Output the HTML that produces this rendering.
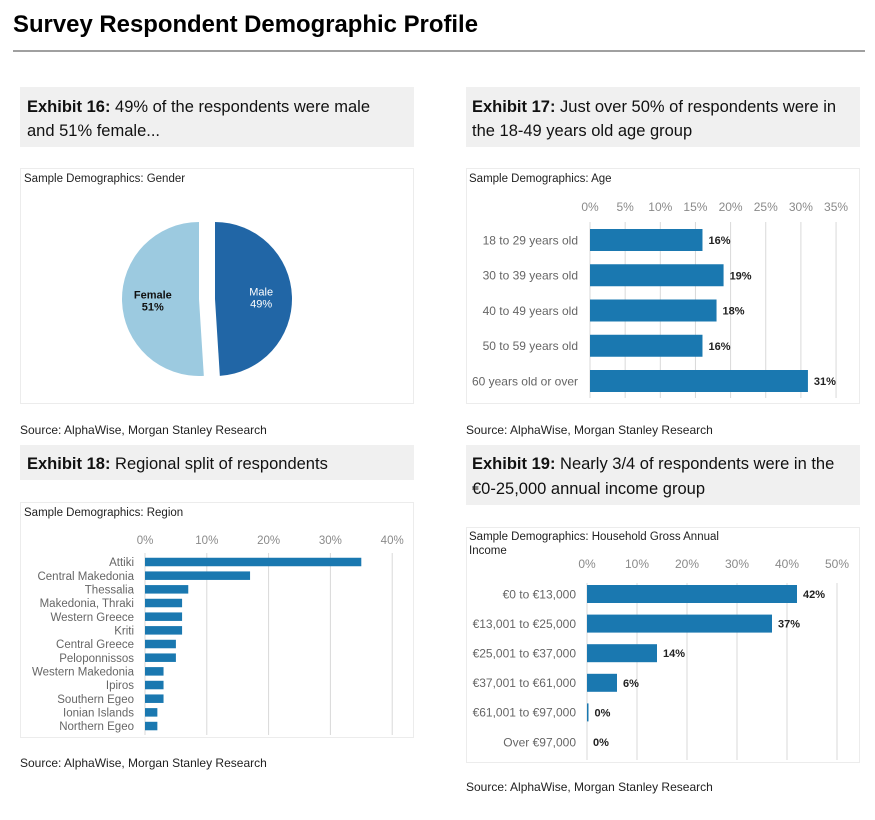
<!DOCTYPE html>
<html><head><meta charset="utf-8">
<style>
html,body{margin:0;padding:0;background:#fff;}
body{width:875px;height:815px;overflow:hidden;}
svg text{font-family:"Liberation Sans",sans-serif;}
</style></head>
<body>
<svg id="page" width="875" height="815" viewBox="0 0 875 815" xmlns="http://www.w3.org/2000/svg">
<text x="13" y="32" font-size="24" font-weight="bold" fill="#000" textLength="465" lengthAdjust="spacingAndGlyphs">Survey Respondent Demographic Profile</text>
<rect x="13" y="50" width="852" height="2" fill="#a0a0a0"/>

<rect x="20" y="87" width="394" height="60" fill="#f0f0f0"/>
<text font-size="16.5" fill="#111"><tspan x="27" y="112"><tspan font-weight="bold">Exhibit 16:</tspan> 49% of the respondents were male</tspan><tspan x="27" y="136">and 51% female...</tspan></text>
<rect x="466" y="87" width="394" height="60" fill="#f0f0f0"/>
<text font-size="16.5" fill="#111"><tspan x="472" y="112"><tspan font-weight="bold">Exhibit 17:</tspan> Just over 50% of respondents were in</tspan><tspan x="472" y="136">the 18-49 years old age group</tspan></text>
<rect x="20" y="445" width="394" height="35" fill="#f0f0f0"/>
<text font-size="16.5" fill="#111" x="27" y="469"><tspan font-weight="bold">Exhibit 18:</tspan> Regional split of respondents</text>
<rect x="466" y="445" width="394" height="60" fill="#f0f0f0"/>
<text font-size="16.5" fill="#111"><tspan x="472" y="469"><tspan font-weight="bold">Exhibit 19:</tspan> Nearly 3/4 of respondents were in the</tspan><tspan x="472" y="494">€0-25,000 annual income group</tspan></text>

<rect x="20.5" y="168.5" width="393" height="235" fill="#fff" stroke="#ececec"/>
<rect x="466.5" y="168.5" width="393" height="235" fill="#fff" stroke="#ececec"/>
<rect x="20.5" y="502.5" width="393" height="235" fill="#fff" stroke="#ececec"/>
<rect x="466.5" y="527.5" width="393" height="235" fill="#fff" stroke="#ececec"/>

<text x="24" y="182" font-size="11.5" fill="#222">Sample Demographics: Gender</text>
<text x="469" y="182" font-size="11.5" fill="#222">Sample Demographics: Age</text>
<text x="24" y="516" font-size="11.5" fill="#222">Sample Demographics: Region</text>
<text font-size="11.5" fill="#222"><tspan x="469" y="540">Sample Demographics: Household Gross Annual</tspan><tspan x="469" y="554">Income</tspan></text>

<text x="20" y="434" font-size="12" fill="#222">Source: AlphaWise, Morgan Stanley Research</text>
<text x="466" y="434" font-size="12" fill="#222">Source: AlphaWise, Morgan Stanley Research</text>
<text x="20" y="767" font-size="12" fill="#222">Source: AlphaWise, Morgan Stanley Research</text>
<text x="466" y="791" font-size="12" fill="#222">Source: AlphaWise, Morgan Stanley Research</text>

<g id="pie"></g>
<g id="age"></g>
<g id="region"></g>
<g id="income"></g>
</svg>
<script>
const genderLabels = ["Male", "Female"];
const genderValues = [49, 51];
const ageCats = ["18 to 29 years old","30 to 39 years old","40 to 49 years old","50 to 59 years old","60 years old or over"];
const ageValues = [16, 19, 18, 16, 31];
const ageTicks = [0,5,10,15,20,25,30,35];
const regionCats = ["Attiki","Central Makedonia","Thessalia","Makedonia, Thraki","Western Greece","Kriti","Central Greece","Peloponnissos","Western Makedonia","Ipiros","Southern Egeo","Ionian Islands","Northern Egeo"];
const regionValues = [35, 17, 7, 6, 6, 6, 5, 5, 3, 3, 3, 2, 2];
const regionTicks = [0,10,20,30,40];
const incomeCats = ["€0 to €13,000","€13,001 to €25,000","€25,001 to €37,000","€37,001 to €61,000","€61,001 to €97,000","Over €97,000"];
const incomeValues = [42, 37, 14, 6, 0.3, 0];
const incomeLabels = ["42%","37%","14%","6%","0%","0%"];
const incomeTicks = [0,10,20,30,40,50];

const NS = "http://www.w3.org/2000/svg";
function mk(parent, tag, attrs, txt){
  const e = document.createElementNS(NS, tag);
  for (const k in attrs) e.setAttribute(k, attrs[k]);
  if (txt !== undefined) e.textContent = txt;
  parent.appendChild(e);
  return e;
}
const BLUE = "#1a78b0";

(function(){
  const g = document.getElementById('pie');
  const total = genderValues.reduce((a,b)=>a+b,0);
  const cy = 299, r = 77;
  const centers = [[215, cy],[199, cy]];
  const colors = ["#2166a6", "#9ccae0"];
  let start = 0;
  genderValues.forEach((v,i)=>{
    const a0 = start/total*2*Math.PI, a1 = (start+v)/total*2*Math.PI;
    const [cx, cyy] = centers[i];
    const x0 = cx + r*Math.sin(a0), y0 = cyy - r*Math.cos(a0);
    const x1 = cx + r*Math.sin(a1), y1 = cyy - r*Math.cos(a1);
    const large = (a1-a0) > Math.PI ? 1 : 0;
    const p = mk(g, 'path', {d:`M${cx},${cyy} L${x0},${y0} A${r},${r} 0 ${large} 1 ${x1},${y1} Z`, fill:colors[i]});
    
    
    const mid = (a0+a1)/2;
    const lx = cx + r*0.6*Math.sin(mid), ly = cyy - r*0.6*Math.cos(mid);
    const t = mk(g, 'text', {x:lx, y:ly-2, 'text-anchor':'middle', 'font-size':11, 'font-weight': i===1?'bold':'normal', fill: i===0?'#fff':'#111'});
    
    
    mk(t, 'tspan', {x:lx, dy:0}, genderLabels[i]);
    mk(t, 'tspan', {x:lx, dy:12}, v + "%");
    start += v;
  });
})();

function barChart(id, cats, vals, ticks, opt){
  const g = document.getElementById(id);
  const xs = v => opt.x0 + v*opt.scale;
  const ys = i => opt.y0 + i*opt.step;
  ticks.forEach(t=>{
    const l = mk(g, 'line', {x1:xs(t), x2:xs(t), y1:opt.gTop, y2:opt.gBot, stroke:'#d9d9d9', 'stroke-width':1});
    
    
    const tx = mk(g, 'text', {x:xs(t), y:opt.tickY, 'text-anchor':'middle', 'font-size':opt.fs, fill:'#8a8a8a'}, t + "%");
    
    
  });
  cats.forEach((c,i)=>{
    const cy = ys(i);
    const lab = mk(g, 'text', {x:opt.labX, y:cy+opt.fs*0.36, 'text-anchor':'end', 'font-size':opt.fs, fill:'#666'}, c);
    
    
    const w = Math.max(0, xs(vals[i]) - xs(0));
    const b = mk(g, 'rect', {x:xs(0), y:cy-opt.bh/2, width:w, height:opt.bh, fill:BLUE});
    
    
    if (opt.labels){
      const v = mk(g, 'text', {x:xs(vals[i]) + 6, y:cy+4, 'font-size':11, 'font-weight':'bold', fill:'#222'}, opt.labels[i]);
      
      
    }
  });
}
barChart('age', ageCats, ageValues, ageTicks, {x0:590, scale:7.03, y0:240, step:35.25, bh:22, gTop:222, gBot:398, tickY:211, labX:578, fs:12, labels: ageValues.map(v=>v+"%")});
barChart('region', regionCats, regionValues, regionTicks, {x0:145, scale:6.18, y0:562, step:13.67, bh:8.5, gTop:553, gBot:735, tickY:544, labX:134, fs:11.5});
barChart('income', incomeCats, incomeValues, incomeTicks, {x0:587, scale:5.0, y0:594, step:29.6, bh:18, gTop:583, gBot:760, tickY:568, labX:576, fs:12, labels: incomeLabels});
</script>
</body></html>
